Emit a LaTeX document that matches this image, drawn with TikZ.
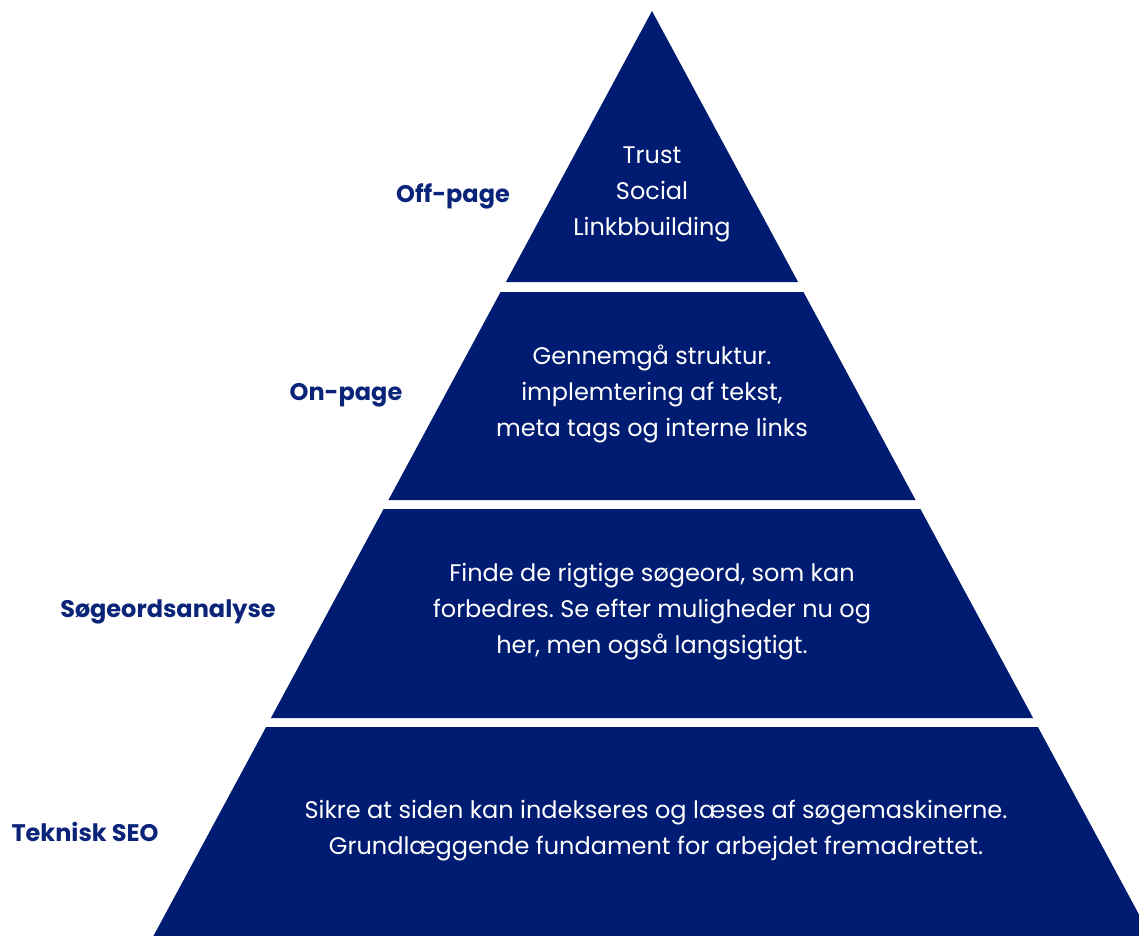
\documentclass[tikz,border=0pt]{standalone}
\usepackage{fontspec}
\setmainfont{Poppins}
\frenchspacing
\definecolor{navy}{HTML}{001C72}
\definecolor{labnavy}{HTML}{0A2479}
\begin{document}
\begin{tikzpicture}[x=1pt,y=-1pt,
  tier/.style={fill=navy,draw=none},
  body/.style={text=white,align=center,font=\fontsize{24}{36}\selectfont},
  lab/.style={text=labnavy,font=\fontsize{24}{28}\selectfont\bfseries}]
\useasboundingbox (0,0) rectangle (1139,935);
\clip (0,0) rectangle (1139,935);
\def\sl{0.539}
% tiers
\fill[tier] (652,11) -- ({652+\sl*(282-11)},282) -- ({652-\sl*(282-11)},282) -- cycle;
\fill[tier] ({652-\sl*(292-11)},292) -- ({652+\sl*(292-11)},292) -- ({652+\sl*(500-11)},500) -- ({652-\sl*(500-11)},500) -- cycle;
\fill[tier] ({652-\sl*(509-11)},509) -- ({652+\sl*(509-11)},509) -- ({652+\sl*(718-11)},718) -- ({652-\sl*(718-11)},718) -- cycle;
\fill[tier] ({652-\sl*(727-11)},727) -- ({652+\sl*(727-11)},727) -- ({652+\sl*(945-11)},945) -- ({652-\sl*(945-11)},945) -- cycle;
% body texts
\node[body] (t1) at (652,194) {Trust\\Social\\Linkbbuilding};
\node[body] (t2) at (652,394) {Gennemgå struktur.\\implemtering af tekst,\\meta tags og interne links};
\node[body] (t3) at (652,612) {Finde de rigtige søgeord, som kan\\forbedres. Se efter muligheder nu og\\her, men også langsigtigt.};
\node[body] (t4) at (656,831) {Sikre at siden kan indekseres og læses af søgemaskinerne.\\Grundlæggende fundament for arbejdet fremadrettet.};
% labels
\node[lab] (l1) at (453,196) {Off-page};
\node[lab] (l2) at (346,395) {On-page};
\node[lab] (l3) at (168,612) {Søgeordsanalyse};
\node[lab] (l4) at (85,832) {Teknisk SEO};
\end{tikzpicture}
\end{document}
